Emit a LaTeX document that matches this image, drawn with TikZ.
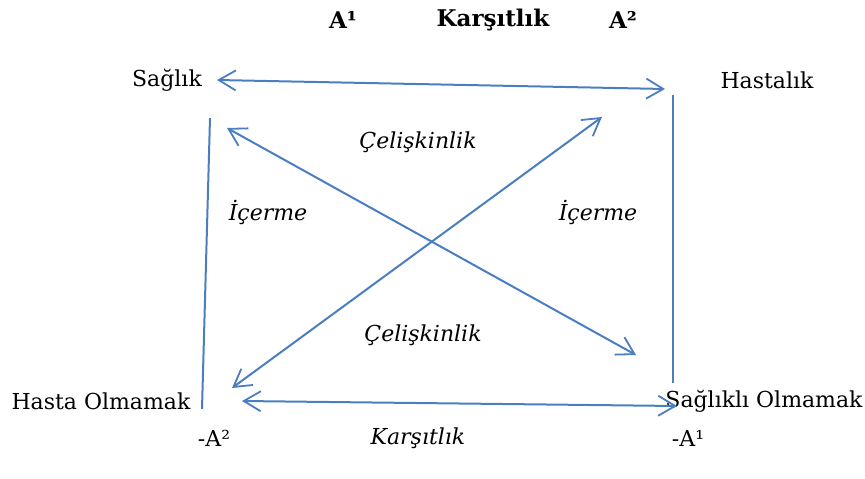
\documentclass[tikz,border=0pt]{standalone}
\usepackage{fontspec}
\setmainfont{DejaVu Serif}
\usetikzlibrary{arrows.meta}
\begin{document}
\begin{tikzpicture}[x=1pt,y=-1pt,
  lbl/.style={inner sep=0pt,font=\fontsize{22}{26}\selectfont},
  blbl/.style={lbl,font=\fontsize{23}{27}\selectfont\bfseries},
  ilbl/.style={lbl,font=\fontsize{22}{26}\selectfont\itshape},
  conn/.style={draw={rgb,255:red,74;green,126;blue,193},line width=2pt},
  biarrow/.style={conn,{Straight Barb[length=17pt,width=20pt,line width=1.8pt]}-{Straight Barb[length=17pt,width=20pt,line width=1.8pt]}}]
\useasboundingbox (0,0) rectangle (865,479);
% labels
\node[blbl] (a1) at (343,20) {A¹};
\node[blbl] (kt) at (493,20) {Karşıtlık};
\node[blbl] (a2) at (623,20) {A²};
\node[lbl] (saglik) at (167,80) {Sağlık};
\node[lbl] (hastalik) at (767,80) {Hastalık};
\node[lbl] (hasta) at (101,401) {Hasta Olmamak};
\node[lbl] (saglikli) at (764,401) {Sağlıklı Olmamak};
\node[ilbl] (cel1) at (418,142) {Çelişkinlik};
\node[ilbl] (cel2) at (423,335) {Çelişkinlik};
\node[ilbl] (ic1) at (268,212) {İçerme};
\node[ilbl] (ic2) at (598,212) {İçerme};
\node[lbl] (ma2) at (214,438) {-A²};
\node[ilbl] (kb) at (418,438) {Karşıtlık};
\node[lbl] (ma1) at (688,438) {-A¹};
% connector end points
\coordinate (t1) at (217,80);
\coordinate (t2) at (665,89);
\coordinate (b1) at (242,401);
\coordinate (b2) at (677,406);
\coordinate (d1a) at (227,128);
\coordinate (d1b) at (636,355);
\coordinate (d2a) at (602,117);
\coordinate (d2b) at (232,388);
\coordinate (l1) at (210,118);
\coordinate (l2) at (202,409);
\coordinate (r1) at (673,95);
\coordinate (r2) at (673,383);
% connectors
\draw[biarrow] (t1) -- (t2);
\draw[biarrow] (b1) -- (b2);
\draw[biarrow] (d1a) -- (d1b);
\draw[biarrow] (d2a) -- (d2b);
\draw[conn] (l1) -- (l2);
\draw[conn] (r1) -- (r2);
\end{tikzpicture}
\end{document}
